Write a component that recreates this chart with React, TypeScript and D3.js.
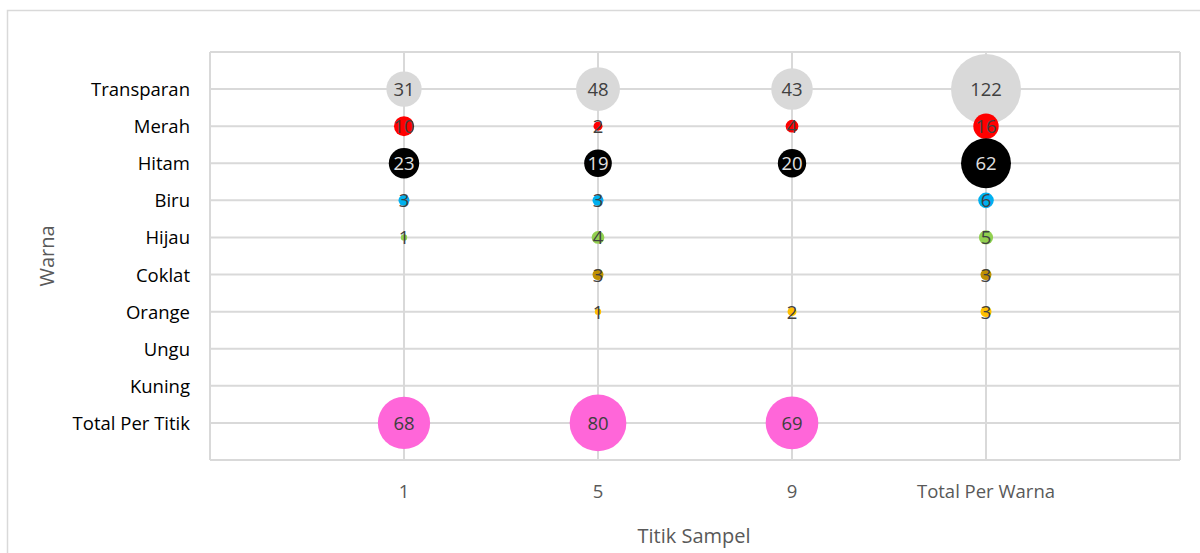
import React from "react";
import * as d3 from "d3";

const colorNames = ["Transparan", "Merah", "Hitam", "Biru", "Hijau", "Coklat", "Orange", "Ungu", "Kuning", "Total Per Titik"];
const colorFills = ["#d9d9d9", "#ff0000", "#000000", "#00b0f0", "#92d050", "#bf9000", "#ffc000", "#7030a0", "#ffff00", "#ff66d9"];
const xTickLabels = ["1", "5", "9", "Total Per Warna"];
// values per colour row, for sample points 1, 5, 9 and total per colour (null = none)
const transparanValues = [31, 48, 43, 122];
const merahValues = [10, 2, 4, 16];
const hitamValues = [23, 19, 20, 62];
const biruValues = [3, 3, null, 6];
const hijauValues = [1, 4, null, 5];
const coklatValues = [null, 3, null, 3];
const orangeValues = [null, 1, 2, 3];
const unguValues = [null, null, null, null];
const kuningValues = [null, null, null, null];
const totalPerTitikValues = [68, 80, 69, null];

const rows = [transparanValues, merahValues, hitamValues, biruValues, hijauValues, coklatValues, orangeValues, unguValues, kuningValues, totalPerTitikValues];

const W = 1200, H = 553;
const plot = { left: 210, right: 1180, top: 52, bottom: 460 };
const font = "'Open Sans', sans-serif";

export default function App() {
  const x = d3.scaleLinear().domain([0, 5]).range([plot.left, plot.right]);
  const y = d3.scaleLinear().domain([0, 11]).range([plot.bottom, plot.top]);
  const r = d3.scaleSqrt().domain([0, 122]).range([0, 35]);
  const n = colorNames.length;
  const yPos = (i: number) => y(n - i);

  const points: { cx: number; cy: number; v: number; fill: string; row: number }[] = [];
  rows.forEach((vals, i) => {
    vals.forEach((v, j) => {
      if (v != null) points.push({ cx: x(j + 1), cy: yPos(i), v, fill: colorFills[i], row: i });
    });
  });

  return (
    <svg width={W} height={H} style={{ position: "absolute", left: 0, top: 0, background: "#fff" }}>
      <rect x={7.5} y={10.5} width={1300} height={700} fill="#fff" stroke="#d9d9d9" strokeWidth={1.5} />
      {d3.range(0, 12).map((k) => (
        <line key={"h" + k} x1={plot.left} x2={plot.right} y1={y(k)} y2={y(k)} stroke="#d9d9d9" strokeWidth={2} />
      ))}
      {[0, 1, 2, 3, 4, 5].map((k) => (
        <line key={"v" + k} x1={x(k)} x2={x(k)} y1={plot.top} y2={plot.bottom} stroke="#d9d9d9" strokeWidth={2} />
      ))}
      {colorNames.map((name, i) => (
        <text key={name} x={190} y={yPos(i)} dy="0.38em" textAnchor="end" fontFamily={font} fontSize={18.5} fill="#000">{name}</text>
      ))}
      {xTickLabels.map((t, j) => (
        <text key={t} x={x(j + 1)} y={491} dy="0.38em" textAnchor="middle" fontFamily={font} fontSize={18.5} fill="#595959">{t}</text>
      ))}
      <text x={694} y={535} dy="0.38em" textAnchor="middle" fontFamily={font} fontSize={20} fill="#595959">Titik Sampel</text>
      <text transform={`translate(47,256) rotate(-90)`} dy="0.35em" textAnchor="middle" fontFamily={font} fontSize={20} fill="#595959">Warna</text>
      {points.map((p, k) => (
        <circle key={"c" + k} cx={p.cx} cy={p.cy} r={r(p.v)} fill={p.fill} />
      ))}
      {points.map((p, k) => (
        <text key={"t" + k} x={p.cx} y={p.cy} dy="0.38em" textAnchor="middle" fontFamily={font} fontSize={18.5}
          fill={p.row === 2 ? "#e0e0e0" : "#404040"}>{p.v}</text>
      ))}
    </svg>
  );
}
